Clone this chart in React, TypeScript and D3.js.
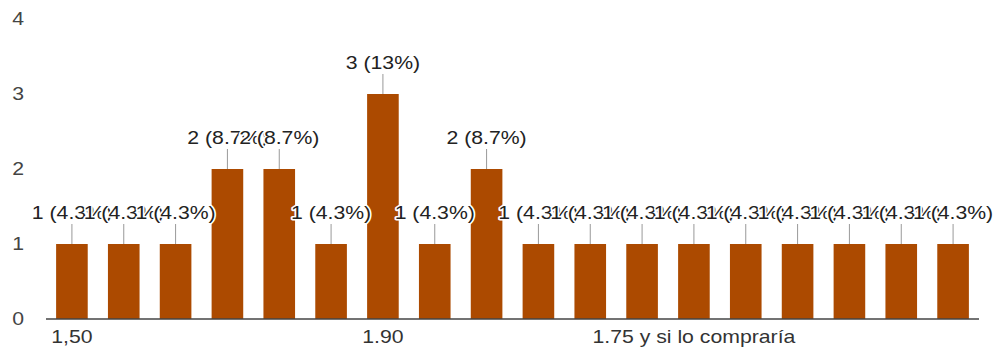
import React from "react";
import * as d3 from "d3";

// ---- data ----
const categories: string[] = [
  "1,50", "", "", "", "", "",
  "1.90", "", "", "", "", "",
  "1.75 y si lo compraría", "", "", "", "", "",
];
const counts: number[] = [1, 1, 1, 2, 2, 1, 3, 1, 2, 1, 1, 1, 1, 1, 1, 1, 1, 1];
const yTicks: number[] = [0, 1, 2, 3, 4];
const shownTickEvery = 6;

const W = 999;
const H = 351;
const FONT = "'Liberation Sans', Arial, sans-serif";
const SX = 1.18; // horizontal stretch of glyphs
const BAR = "#ac4a00";

export default function App() {
  const total = d3.sum(counts);
  const idx = counts.map((_, i) => i);
  const x = d3.scaleBand<number>().domain(idx).range([46, 979]).paddingInner(0.39).paddingOuter(0.195);
  const y = d3.scaleLinear().domain([0, 4]).range([319, 19]);
  const fmt = d3.format(".2~r");

  const label = (v: number) => `${v} (${fmt((v / total) * 100)}%)`;

  return (
    <svg
      width={W}
      height={H}
      style={{ position: "fixed", left: 0, top: 0, background: "#fff" }}
      fontFamily={FONT}
    >
      <rect x={0} y={0} width={W} height={H} fill="#fff" />
      {/* y tick labels */}
      {yTicks.map((t) => (
        <text
          key={"y" + t}
          transform={`translate(24,${y(t)}) scale(${SX},1)`}
          textAnchor="end"
          dy="0.36em"
          fontSize={18}
          fill="#444"
        >
          {t}
        </text>
      ))}
      {/* bars */}
      {counts.map((v, i) => (
        <rect
          key={"b" + i}
          x={x(i)!}
          y={y(v)}
          width={x.bandwidth()}
          height={y(0) - y(v)}
          fill={BAR}
        />
      ))}
      {/* leader lines */}
      {counts.map((v, i) => (
        <line
          key={"l" + i}
          x1={x(i)! + x.bandwidth() / 2}
          x2={x(i)! + x.bandwidth() / 2}
          y1={y(v)}
          y2={y(v) - 20}
          stroke="#999"
          strokeWidth={1}
        />
      ))}
      {/* annotations */}
      {counts.map((v, i) => (
        <text
          key={"a" + i}
          transform={`translate(${x(i)! + x.bandwidth() / 2},${y(v) - 25}) scale(${SX},1)`}
          textAnchor="middle"
          fontSize={18}
          fill="#222"
          stroke="#fff"
          strokeWidth={3}
          strokeLinejoin="round"
          paintOrder="stroke"
        >
          {label(v)}
        </text>
      ))}
      {/* baseline */}
      <line x1={46} x2={979} y1={y(0)} y2={y(0)} stroke="#444" strokeWidth={1.5} />
      {/* x tick labels */}
      {categories.map((c, i) =>
        i % shownTickEvery === 0 ? (
          <text
            key={"x" + i}
            transform={`translate(${x(i)! + x.bandwidth() / 2},343) scale(${SX},1)`}
            textAnchor="middle"
            fontSize={18}
            fill="#333"
          >
            {c}
          </text>
        ) : null
      )}
    </svg>
  );
}
